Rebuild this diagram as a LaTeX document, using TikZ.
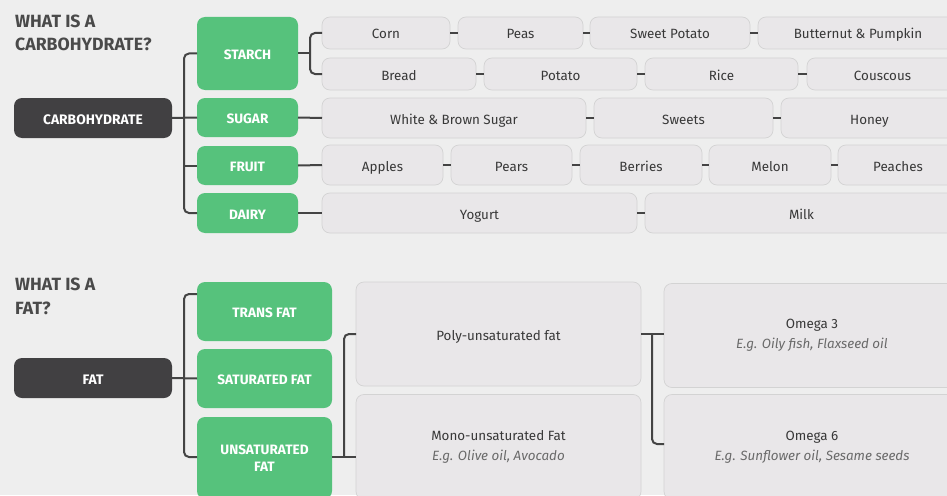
\documentclass[tikz,border=0pt]{standalone}
\usepackage{fontspec}
\setmainfont{Fira Sans}
\usepackage{xcolor}
\usepackage{tikz}

\definecolor{bgcol}{HTML}{EEEEEE}
\definecolor{itemfill}{HTML}{E9E7E9}
\definecolor{itemline}{HTML}{D3D3D3}
\definecolor{itemtext}{HTML}{383838}
\definecolor{notetext}{HTML}{6A6A6A}
\definecolor{leafgreen}{HTML}{56C27C}
\definecolor{darkbox}{HTML}{414042}
\definecolor{headtext}{HTML}{4A4A4A}
\definecolor{linkcol}{HTML}{444444}

\tikzset{
    itembox/.style={draw=itemline, fill=itemfill, line width=0.7pt, rounded corners=8pt,
        inner sep=0pt, outer sep=0pt, text=itemtext, align=center,
        font=\fontsize{13.4}{20}\selectfont},
    oneline/.style={text height=12pt, text depth=0pt},
    groupbox/.style={fill=leafgreen, rounded corners=8pt, inner sep=0pt, outer sep=0pt,
        text=white, align=center, font=\bfseries\fontsize{13.6}{16.5}\selectfont},
    mainbox/.style={fill=darkbox, rounded corners=8pt, inner sep=0pt, outer sep=0pt,
        text=white, text height=12pt, text depth=0pt, font=\bfseries\fontsize{13.8}{16}\selectfont},
    heading/.style={anchor=base west, inner sep=0pt, text=headtext, align=left,
        font=\bfseries\fontsize{17.7}{23.5}\selectfont},
    link/.style={draw=linkcol, line width=2pt},
}
\newcommand{\egnote}[1]{\\{\itshape\color{notetext}#1}}

\begin{document}
\begin{tikzpicture}[x=1pt, y=-1pt]
    \useasboundingbox (0, 0) rectangle (947, 495);
    \clip (0, 0) rectangle (947, 495);
    \fill [bgcol] (0, 0) rectangle (947, 495);

    % carbohydrate
    \node [heading] (carbtitle) at (15, 51) {WHAT IS A\\CARBOHYDRATE?};
    \node [mainbox, minimum width=158pt, minimum height=40pt] (carb) at (93, 118) {CARBOHYDRATE};

    \node [groupbox, oneline, minimum width=101pt, minimum height=73pt] (starch) at (247.5, 53.5) {STARCH};
    \node [groupbox, oneline, minimum width=101pt, minimum height=39pt] (sugar) at (247.5, 117.5) {SUGAR};
    \node [groupbox, oneline, minimum width=101pt, minimum height=39pt] (fruit) at (247.5, 165.5) {FRUIT};
    \node [groupbox, oneline, minimum width=101pt, minimum height=40pt] (dairy) at (247.5, 213) {DAIRY};

    \node [itembox, oneline, minimum width=128pt, minimum height=32pt] (corn) at (386, 33) {Corn};
    \node [itembox, oneline, minimum width=125pt, minimum height=32pt] (peas) at (520.5, 33) {Peas};
    \node [itembox, oneline, minimum width=160pt, minimum height=32pt] (sweetpotato) at (670, 33) {Sweet Potato};
    \node [itembox, oneline, minimum width=200pt, minimum height=32pt] (butternut) at (858, 33) {Butternut \& Pumpkin};

    \node [itembox, oneline, minimum width=154pt, minimum height=32pt] (bread) at (399, 74) {Bread};
    \node [itembox, oneline, minimum width=153pt, minimum height=32pt] (potato) at (560.5, 74) {Potato};
    \node [itembox, oneline, minimum width=153pt, minimum height=32pt] (rice) at (721.5, 74) {Rice};
    \node [itembox, oneline, minimum width=151pt, minimum height=32pt] (couscous) at (882.5, 74) {Couscous};

    \node [itembox, oneline, minimum width=264pt, minimum height=40pt] (whitesugar) at (454, 118) {White \& Brown Sugar};
    \node [itembox, oneline, minimum width=179pt, minimum height=40pt] (sweets) at (683.5, 118) {Sweets};
    \node [itembox, oneline, minimum width=177pt, minimum height=40pt] (honey) at (869.5, 118) {Honey};

    \node [itembox, oneline, minimum width=121pt, minimum height=40pt] (apples) at (382.5, 165) {Apples};
    \node [itembox, oneline, minimum width=121pt, minimum height=40pt] (pears) at (511.5, 165) {Pears};
    \node [itembox, oneline, minimum width=122pt, minimum height=40pt] (berries) at (641, 165) {Berries};
    \node [itembox, oneline, minimum width=122pt, minimum height=40pt] (melon) at (770, 165) {Melon};
    \node [itembox, oneline, minimum width=120pt, minimum height=40pt] (peaches) at (898, 165) {Peaches};

    \node [itembox, oneline, minimum width=315pt, minimum height=40pt] (yogurt) at (479.5, 213) {Yogurt};
    \node [itembox, oneline, minimum width=313pt, minimum height=40pt] (milk) at (801.5, 213) {Milk};

    \coordinate (ctrunk) at (184, 118);
    \coordinate (sbranch) at (310, 53.5);
    \draw [link] (carb.east) -- (sugar.west);
    \draw [link, rounded corners=5pt] (starch.west) -| (ctrunk) |- (dairy.west);
    \draw [link] (ctrunk |- fruit.west) -- (fruit.west);
    \draw [link] (starch.east) -- (sbranch);
    \draw [link, rounded corners=5pt] (corn.west) -| (sbranch) |- (bread.west);
    \draw [link] (sugar.east) -- (whitesugar.west);
    \draw [link] (fruit.east) -- (apples.west);
    \draw [link] (dairy.east) -- (yogurt.west);
    \foreach \a/\b in {corn/peas, peas/sweetpotato, sweetpotato/butternut,
            bread/potato, potato/rice, rice/couscous, whitesugar/sweets, sweets/honey,
            apples/pears, pears/berries, berries/melon, melon/peaches, yogurt/milk} {
        \draw [link] (\a.east) -- (\b.west);
    }

    % fat
    \node [heading] (fattitle) at (15, 314) {WHAT IS A\\FAT?};
    \node [mainbox, minimum width=158pt, minimum height=40pt] (fat) at (93, 378) {FAT};

    \node [groupbox, oneline, minimum width=135pt, minimum height=59pt] (transfat) at (264.5, 311.5) {TRANS FAT};
    \node [groupbox, oneline, minimum width=135pt, minimum height=59pt] (satfat) at (264.5, 378.5) {SATURATED FAT};
    \node [groupbox, minimum width=135pt, minimum height=82pt] (unsatfat) at (264.5, 458) {UNSATURATED\\FAT};

    \node [itembox, oneline, minimum width=285pt, minimum height=104pt] (poly) at (498.5, 334) {Poly-unsaturated fat};
    \node [itembox, minimum width=285pt, minimum height=105pt] (mono) at (498.5, 447)
        {Mono-unsaturated Fat\egnote{E.g. Olive oil, Avocado}};
    \node [itembox, minimum width=296pt, minimum height=104pt] (omega3) at (812, 335.5)
        {Omega 3\egnote{E.g. Oily fish, Flaxseed oil}};
    \node [itembox, minimum width=296pt, minimum height=105pt] (omega6) at (812, 447)
        {Omega 6\egnote{E.g. Sunflower oil, Sesame seeds}};

    \coordinate (ftop) at (184, 294);
    \coordinate (ubranch) at (344, 457);
    \coordinate (obranch) at (652, 334);
    \draw [link] (fat.east) -- (satfat.west);
    \draw [link, rounded corners=5pt] (transfat.west |- ftop) -- (ftop) |- (unsatfat.west |- ubranch);
    \draw [link] (unsatfat.east |- ubranch) -- (mono.west |- ubranch);
    \draw [link, rounded corners=5pt] (poly.west) -| (ubranch);
    \draw [link] (poly.east) -- (omega3.west |- poly.east);
    \draw [link, rounded corners=5pt] (obranch) |- (omega6.west |- 0, 444);
\end{tikzpicture}
\end{document}
